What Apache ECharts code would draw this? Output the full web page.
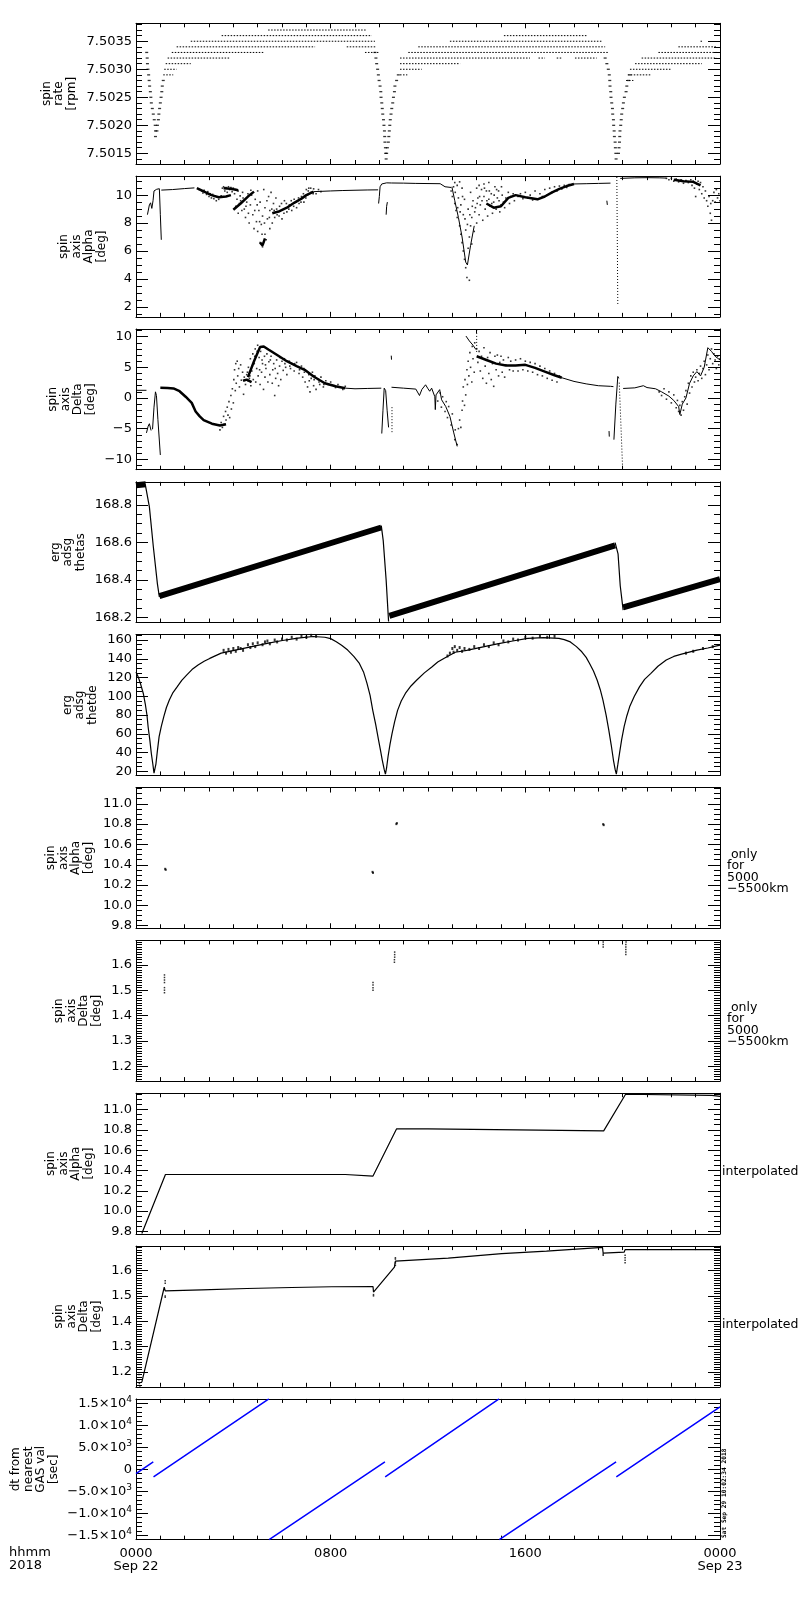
<!DOCTYPE html>
<html><head><meta charset="utf-8">
<script src="https://cdn.jsdelivr.net/npm/echarts@6/dist/echarts.min.js"></script>
<style>html,body{margin:0;padding:0;background:#fff}#c{width:800px;height:1600px}</style>
</head><body><div id="c"></div>
<script>
// ---------------- X axis: hours from 2018-09-22 00:00 UT ----------------
const xTickValues = [0, 8, 16, 24];
const xTickLabels = ['0000\nSep 22', '0800', '1600', '0000\nSep 23'];

// ---------------- Panel 1: spin rate [rpm] ----------------
const spinRateTicks = [7.5015, 7.5020, 7.5025, 7.5030, 7.5035];
const spinRateTickLabels = ['7.5015', '7.5020', '7.5025', '7.5030', '7.5035'];
// quantised rows: [level, tStart, tEnd]
const spinRateRows = [
  [7.5037, 5.43, 9.47],
  [7.5036, 3.52, 9.69], [7.5036, 15.12, 18.52],
  [7.5035, 2.25, 9.82], [7.5035, 12.9, 19.14], [7.5035, 23.2, 23.3],
  [7.5034, 1.67, 7.36], [7.5034, 8.66, 9.89], [7.5034, 11.6, 19.28], [7.5034, 22.29, 23.87],
  [7.5033, 1.47, 5.23], [7.5033, 9.41, 9.96], [7.5033, 11.19, 19.42], [7.5033, 21.47, 23.87],
  [7.5032, 1.3, 3.83], [7.5032, 10.85, 16.19], [7.5032, 16.54, 16.81], [7.5032, 17.29, 17.5], [7.5032, 18.04, 18.93], [7.5032, 20.78, 23.87],
  [7.5031, 1.22, 2.25], [7.5031, 10.85, 13.32], [7.5031, 20.51, 23.25],
  [7.5030, 1.16, 1.67], [7.5030, 10.85, 11.74], [7.5030, 20.3, 22.0],
  [7.5029, 1.12, 1.53], [7.5029, 10.85, 11.15], [7.5029, 20.21, 21.15],
  [7.5028, 20.14, 20.44]
];
const spinRateDips = [
  [0.44,7.5033],[0.46,7.5032],[0.47,7.5031],[0.49,7.5030],[0.52,7.5029],[0.54,7.5028],[0.56,7.5027],[0.59,7.5026],
  [0.61,7.5025],[0.63,7.5024],[0.67,7.5023],[0.71,7.5022],[0.75,7.5021],[0.79,7.5020],[0.8,7.5019],[0.8,7.5018],
  [0.86,7.5019],[0.88,7.5020],[0.92,7.5021],[0.94,7.5022],[0.97,7.5023],[1.0,7.5024],[1.03,7.5025],[1.06,7.5026],
  [1.08,7.5027],[1.12,7.5028],
  [9.82,7.5033],[9.86,7.5032],[9.89,7.5031],[9.93,7.5030],[9.96,7.5029],[9.99,7.5028],[10.03,7.5027],[10.06,7.5026],
  [10.07,7.5025],[10.1,7.5024],[10.12,7.5023],[10.14,7.5022],[10.17,7.5021],[10.19,7.5020],[10.21,7.5019],[10.22,7.5018],
  [10.23,7.5017],[10.25,7.5016],[10.26,7.5015],[10.28,7.5014],
  [10.3,7.5015],[10.33,7.5016],[10.37,7.5017],[10.39,7.5018],[10.41,7.5019],[10.43,7.5020],[10.45,7.5021],[10.48,7.5022],
  [10.51,7.5023],[10.55,7.5024],[10.58,7.5025],[10.62,7.5026],[10.64,7.5027],[10.71,7.5028],[10.78,7.5029],
  [19.28,7.5032],[19.35,7.5031],[19.41,7.5030],[19.45,7.5029],[19.47,7.5028],[19.48,7.5027],[19.51,7.5026],[19.52,7.5025],
  [19.55,7.5024],[19.58,7.5023],[19.59,7.5022],[19.62,7.5021],[19.63,7.5020],[19.65,7.5019],[19.66,7.5018],[19.69,7.5017],
  [19.7,7.5016],[19.72,7.5015],[19.73,7.5014],
  [19.83,7.5015],[19.85,7.5016],[19.87,7.5017],[19.88,7.5018],[19.89,7.5019],[19.92,7.5020],[19.94,7.5021],[19.96,7.5022],
  [20.0,7.5023],[20.03,7.5024],[20.07,7.5025],[20.14,7.5026],[20.17,7.5027],[20.24,7.5028],[20.3,7.5029]
];

// ---------------- Panel 2: spin axis Alpha [deg] ----------------
const alphaTicks = [2, 4, 6, 8, 10];
const alphaTickLabels = ['2', '4', '6', '8', '10'];
const alphaLine = [
  [0.47,8.6],[0.55,9.3],[0.6,9.45],[0.65,9.05],[0.7,9.6],[0.74,10.3],[0.85,10.42],[0.96,10.46],[1.0,8.6],[1.04,6.8], null,
  [1.04,10.36],[1.5,10.4],[2.0,10.47],[2.4,10.52], null,
  [7.3,10.25],[8.0,10.3],[8.5,10.33],[9.0,10.35],[9.5,10.37],[9.95,10.38], null,
  [9.97,9.4],[10.0,9.9],[10.03,10.6],[10.1,10.8],[10.3,10.88],[10.5,10.87],[11.0,10.86],[11.5,10.84],[12.0,10.83],[12.5,10.82],[12.7,10.6],[12.95,10.55], null,
  [10.28,8.6],[10.3,9.2],[10.33,9.5], null,
  [12.98,10.6],[13.1,9.6],[13.25,8.4],[13.4,7.0],[13.55,5.2],[13.62,5.0],[13.75,6.4],[13.9,7.8], null,
  [18.0,10.8],[18.5,10.82],[19.0,10.84],[19.5,10.86], null,
  [19.35,9.6],[19.37,9.3], null,
  [19.9,11.2],[20.5,11.24],[21.0,11.25],[21.5,11.24],[21.8,11.22]
];
const alphaBand = [
  [2.5,10.5],[2.8,10.25],[3.1,10.0],[3.4,9.85],[3.7,9.9],[3.9,10.0], null,
  [3.6,10.5],[3.9,10.45],[4.2,10.35], null,
  [4.0,8.95],[4.3,9.4],[4.6,9.9],[4.85,10.25], null,
  [5.1,6.6],[5.2,6.4],[5.3,6.9], null,
  [5.6,8.7],[5.9,8.85],[6.2,9.1],[6.5,9.45],[6.8,9.75],[7.0,10.0],[7.3,10.25], null,
  [14.4,9.4],[14.7,9.1],[15.0,9.2],[15.3,9.8],[15.6,10.0],[16.0,9.85],[16.5,9.7],[16.8,9.9],[17.1,10.2],[17.4,10.45],[17.7,10.65],[18.0,10.8], null,
  [22.1,11.1],[22.5,11.0],[22.9,10.95],[23.2,10.7]
];
const alphaSpike = [[19.76,11.3],[19.8,2.1]];
const alphaCloud = [
  [2.6,10.4],[2.7,10.3],[2.75,10.15],[2.8,10.35],[2.9,10.05],[2.95,10.25],[3.0,9.9],[3.05,10.1],[3.1,9.8],[3.15,10.05],
  [3.2,9.75],[3.25,9.95],[3.3,9.6],[3.35,9.85],[3.4,9.7],[3.5,9.95],[3.55,10.5],[3.6,10.6],[3.65,10.3],[3.7,10.55],
  [3.75,10.2],[3.8,10.6],[3.85,10.4],[3.9,10.55],[3.95,10.25],[4.0,10.5],[4.05,10.1],[4.1,10.4],[4.15,9.7],[4.2,10.3],[4.25,9.4],
  [4.1,9.2],[4.2,8.7],[4.3,9.6],[4.35,8.9],[4.4,9.8],[4.45,9.0],[4.5,8.4],[4.55,9.5],[4.6,10.1],[4.65,8.0],[4.7,9.3],
  [4.75,10.0],[4.8,8.6],[4.85,7.6],[4.9,9.7],[4.95,8.1],[5.0,10.3],[5.0,7.4],[5.05,8.9],[5.1,6.6],[5.1,9.5],[5.15,7.9],
  [5.2,6.3],[5.2,8.5],[5.25,10.4],[5.3,7.2],[5.3,9.1],[5.35,6.8],[5.4,8.3],[5.45,9.9],[5.5,7.6],[5.5,8.9],[5.55,10.2],
  [5.6,8.0],[5.65,9.4],[5.7,8.4],[5.75,9.8],[5.8,8.6],[5.9,9.2],[6.0,8.3],[6.1,9.6],[6.2,8.8],[6.3,9.3],[6.4,8.9],
  [6.5,9.7],[6.6,9.1],[6.7,9.4],[6.8,9.9],[6.9,9.5],[7.0,10.4],[7.05,10.0],[7.1,10.5],[7.2,10.2],[7.3,10.45],[7.4,10.1],[7.5,10.4],[7.6,10.25],
  [4.28,9.95],[4.38,10.2],[4.52,9.2],[4.62,8.7],[4.72,10.35],[4.88,8.9],[4.98,9.3],[5.08,8.1],[5.18,7.2],[5.28,8.0],
  [5.38,9.6],[5.48,8.4],[5.58,9.0],[5.68,8.9],[5.78,9.0],[5.88,8.5],[5.98,9.4],[6.08,8.7],[6.18,9.4],[6.28,9.0],
  [6.38,9.6],[6.48,9.2],[6.58,9.5],[6.68,9.8],[6.78,9.5],[6.88,10.1],[6.98,9.8],[7.08,10.3],[7.18,10.5],[7.28,10.1],
  [12.95,10.3],[13.0,9.9],[13.05,10.6],[13.1,9.4],[13.1,10.9],[13.15,8.9],[13.2,10.7],[13.2,8.4],[13.25,9.8],[13.3,7.8],
  [13.3,10.95],[13.35,7.2],[13.35,9.3],[13.4,6.6],[13.4,10.5],[13.45,6.0],[13.45,8.6],[13.5,5.4],[13.5,9.7],[13.55,4.8],
  [13.55,7.5],[13.6,4.1],[13.65,6.2],[13.65,9.0],[13.7,7.0],[13.7,3.9],[13.75,7.8],[13.75,10.2],[13.8,6.5],[13.8,8.4],
  [13.85,9.6],[13.9,7.4],[13.95,9.1],[14.0,10.5],[14.0,8.0],[14.05,9.8],[14.1,10.7],[14.1,8.6],[14.15,9.3],[14.2,10.4],
  [14.25,8.2],[14.3,9.9],[14.3,10.8],[14.35,9.0],[14.4,10.3],[14.45,8.5],[14.5,9.7],[14.5,10.9],[14.55,9.2],[14.6,10.1],
  [14.65,8.7],[14.7,9.5],[14.75,10.6],[14.8,9.0],[14.85,9.8],[14.9,10.3],[14.95,8.8],[15.0,9.3],[15.05,10.0],[15.1,9.5],
  [15.15,9.1],[15.2,9.8],[15.3,10.2],[15.35,9.4],[15.4,9.9],[15.5,10.1],[15.55,9.6],
  [13.12,10.2],[13.22,9.1],[13.32,8.8],[13.42,9.9],[13.52,8.3],[13.62,7.9],[13.72,8.6],[13.82,9.2],[13.92,8.8],[14.02,9.4],
  [14.12,9.9],[14.22,9.6],[14.32,10.5],[14.42,9.6],[14.52,10.3],[14.62,9.4],[14.72,10.0],[14.82,10.4],[14.92,9.6],[15.02,10.6],
  [15.7,9.9],[15.8,10.1],[15.9,9.75],[16.0,10.2],[16.1,9.8],[16.2,10.0],[16.3,9.65],[16.4,10.3],[16.5,9.7],[16.6,10.1],
  [16.7,9.9],[16.8,10.4],[16.9,10.0],[17.0,10.5],[17.1,10.2],[17.2,10.6],[17.3,10.3],[17.4,10.65],[17.5,10.45],[17.6,10.7],[17.7,10.55],[17.8,10.75],
  [21.8,11.2],[21.9,11.1],[22.0,11.2],[22.1,11.0],[22.2,11.15],[22.3,10.95],[22.4,11.1],[22.5,10.85],[22.6,11.05],[22.7,10.9],
  [22.8,11.1],[22.85,10.7],[22.9,11.0],[22.95,10.5],[23.0,9.9],[23.05,10.8],[23.1,11.0],[23.15,10.4],[23.2,10.9],[23.25,10.1],
  [23.3,10.6],[23.35,9.8],[23.4,10.3],[23.45,9.6],[23.5,9.2],[23.55,9.9],[23.6,8.7],[23.62,9.4],[23.65,8.2],[23.7,9.6],
  [23.75,10.2],[23.8,9.5],[23.85,10.4],[23.9,9.8],[23.95,10.1],[24.0,9.6]
];

// ---------------- Panel 3: spin axis Delta [deg] ----------------
const deltaTicks = [-10, -5, 0, 5, 10];
const deltaTickLabels = ['\u221210', '\u22125', '0', '5', '10'];
const deltaLine = [
  [0,1.25],[0.43,1.25], null,
  [0.43,-5.7],[0.5,-4.6],[0.55,-4.2],[0.62,-5.3], null,
  [0.68,-5.1],[0.74,-1.5],[0.8,1.0],[0.84,0.4],[0.9,-3.5],[1.0,-9.3], null,
  [8.6,1.6],[9.0,1.5],[9.5,1.55],[10.08,1.6], null,
  [10.1,-5.8],[10.15,-2.0],[10.2,1.6],[10.26,1.2],[10.32,-2.0],[10.38,-4.8], null,
  [10.49,6.9],[10.5,6.25], null,
  [10.5,1.75],[11.0,1.6],[11.5,1.45],[11.57,1.2],[11.65,0.4],[11.75,1.4],[11.9,2.15],[12.0,1.5],[12.07,1.1],[12.15,1.6],
  [12.23,1.9],[12.28,0.2],[12.3,-1.9],[12.33,0.5],[12.48,1.36],[12.56,-0.3],[12.73,-1.4],[12.9,-3.0],[13.06,-5.7],[13.2,-7.9], null,
  [13.56,10.1],[13.7,9.3],[13.85,8.6],[13.97,7.9], null,
  [17.5,3.3],[18.0,2.7],[18.5,2.3],[19.0,2.0],[19.5,1.9],[19.62,1.85], null,
  [19.44,-5.4],[19.45,-6.3], null,
  [19.64,-6.8],[19.72,-1.0],[19.8,3.5],[19.84,3.2], null,
  [20.02,1.55],[20.5,1.65],[20.85,2.0],[21.0,1.7],[21.35,1.5],[21.6,1.0],[21.9,0.3],[22.1,-0.4],[22.3,-1.4],[22.35,-2.7],
  [22.45,-1.0],[22.6,0.0],[22.75,2.4],[22.9,3.6],[23.05,4.3],[23.2,3.6],[23.35,5.0],[23.5,8.2],[23.65,7.6],[23.8,6.8],[24,6.2]
];
const deltaBand = [
  [1.0,1.65],[1.3,1.62],[1.54,1.55],[1.79,1.1],[2.04,0.2],[2.29,-0.8],[2.45,-2.2],[2.62,-3.0],[2.78,-3.6],[3.12,-4.2],[3.45,-4.5],[3.7,-4.3], null,
  [4.6,3.4],[4.85,6.0],[5.1,8.3],[5.25,8.4],[5.44,7.9],[5.8,7.0],[6.2,6.0],[6.6,5.2],[6.93,4.6],[7.3,3.5],[7.76,2.4],[8.2,1.9],[8.6,1.6], null,
  [4.4,2.8],[4.55,3.0],[4.75,2.6], null,
  [14.0,6.8],[14.4,6.2],[14.8,5.6],[15.2,5.3],[15.6,5.3],[16.0,5.4],[16.4,4.9],[16.8,4.3],[17.2,3.7],[17.5,3.3]
];
const deltaDotted = [[14.0,11.1],[14.0,7.3], null, [10.52,-1.5],[10.52,-5.8], null, [19.86,2.5],[20.0,-11.7]];
const deltaCloud = [
  [3.45,-5.2],[3.5,-4.0],[3.55,-4.8],[3.6,-3.0],[3.62,-4.3],[3.68,-2.2],[3.7,-3.6],[3.75,-1.5],[3.78,-2.8],[3.82,-0.6],
  [3.85,-3.2],[3.9,0.4],[3.92,-1.8],[3.96,1.5],[4.0,-0.8],[4.02,3.0],[4.05,4.6],[4.08,1.2],[4.1,5.6],[4.12,2.4],
  [4.16,6.0],[4.18,3.6],[4.22,4.8],[4.25,1.8],[4.3,5.4],[4.33,2.9],[4.38,4.2],[4.42,0.6],[4.45,3.4],
  [4.5,2.2],[4.55,3.8],[4.6,2.8],[4.62,5.0],[4.66,3.2],[4.7,6.4],[4.72,2.0],[4.76,4.4],[4.8,7.2],[4.82,3.0],[4.86,5.6],
  [4.9,8.0],[4.92,2.6],[4.96,4.8],[5.0,8.6],[5.02,3.6],[5.06,6.6],[5.1,2.2],[5.12,7.6],[5.16,4.2],[5.2,5.6],[5.24,1.4],
  [5.28,6.8],[5.3,3.4],[5.34,4.8],[5.38,7.2],[5.42,2.6],[5.46,5.9],[5.5,3.8],[5.55,6.8],[5.6,2.4],[5.62,4.6],[5.66,5.6],
  [5.7,0.4],[5.74,3.2],[5.78,6.2],[5.82,4.0],[5.86,2.0],[5.9,5.2],[5.95,3.0],[6.0,6.0],
  [6.05,4.5],[6.1,6.4],[6.15,5.0],[6.2,3.8],[6.3,6.0],[6.35,4.8],[6.4,5.6],[6.5,4.4],[6.6,5.8],[6.7,4.0],[6.8,5.2],
  [6.85,3.4],[6.9,4.8],[6.95,2.6],[7.0,4.4],[7.05,1.8],[7.1,3.8],[7.15,1.0],[7.2,3.2],[7.25,4.2],[7.3,2.0],[7.35,3.6],
  [7.4,1.4],[7.5,3.0],[7.55,2.2],[7.6,3.4],[7.7,1.8],[7.8,2.8],[7.9,2.2],[8.0,2.6],[8.2,1.7],[8.3,2.2],[8.5,1.4],[8.6,1.9],
  [4.58,4.2],[4.68,3.6],[4.78,5.2],[4.88,6.8],[4.98,7.6],[5.08,4.6],[5.18,6.2],[5.32,5.4],[5.52,6.2],[5.72,4.8],
  [5.92,6.6],[6.12,5.6],[6.32,5.2],[6.52,5.6],[6.72,4.6],[6.92,4.2],[7.12,2.8],[7.32,3.0],[7.52,2.6],[7.72,2.2],
  [12.4,-0.5],[12.5,0.8],[12.55,-1.5],[12.6,0.2],[12.7,-2.2],[12.75,-0.6],[12.8,-3.2],[12.85,-1.4],[12.95,-4.4],[13.0,-2.6],
  [13.1,-6.8],[13.12,-5.2],[13.2,-7.6],[13.25,-5.0],[13.3,-3.6],[13.35,-4.8],[13.4,-2.0],[13.42,-0.5],[13.45,1.8],[13.5,-1.2],
  [13.52,3.0],[13.55,0.5],[13.6,4.6],[13.62,2.2],[13.65,6.0],[13.68,3.6],[13.72,7.4],[13.75,5.0],[13.8,2.6],[13.82,8.4],
  [13.85,6.4],[13.9,4.2],[13.92,9.0],
  [14.0,8.0],[14.05,5.8],[14.1,7.6],[14.15,4.4],[14.2,6.8],[14.25,3.2],[14.3,8.2],[14.35,5.2],[14.4,2.4],[14.45,6.6],
  [14.5,4.0],[14.55,7.4],[14.6,3.0],[14.65,5.6],[14.7,1.9],[14.75,6.8],[14.8,4.6],[14.85,7.0],[14.9,3.6],[14.95,5.8],
  [15.0,6.8],[15.05,4.2],[15.1,6.2],[15.15,3.4],[15.2,5.4],[15.3,6.6],[15.35,4.6],[15.4,6.0],[15.5,4.4],
  [15.6,6.2],[15.7,4.4],[15.8,6.4],[15.9,4.6],[16.0,6.0],[16.1,4.4],[16.2,5.8],[16.3,4.2],[16.4,5.6],[16.5,3.8],
  [16.6,5.2],[16.7,3.6],[16.8,4.8],[16.9,3.2],[17.0,4.4],[17.1,2.9],[17.2,4.0],[17.3,2.6],[17.4,3.6],
  [21.5,1.0],[21.6,0.4],[21.7,1.5],[21.8,-0.2],[21.9,1.0],[22.0,-0.8],[22.1,0.5],[22.2,-1.6],[22.25,-0.4],[22.3,-2.2],
  [22.35,-1.2],[22.4,-2.8],[22.45,-0.6],[22.5,-2.0],[22.55,0.2],[22.6,1.2],[22.65,-1.0],[22.7,2.4],[22.75,0.8],[22.8,3.6],
  [22.85,1.8],[22.9,4.2],[22.95,2.6],[23.0,3.4],[23.05,4.6],[23.1,2.8],[23.15,4.0],[23.2,5.2],[23.25,3.2],[23.3,4.8],
  [23.35,6.0],[23.4,3.8],[23.45,5.4],[23.5,7.0],[23.55,4.6],[23.6,6.4],[23.65,8.0],[23.7,5.6],[23.75,7.2],[23.8,6.2],
  [23.85,4.8],[23.9,6.8],[23.95,5.4],[24.0,6.4]
];

// ---------------- Panel 4: erg adsg thetas ----------------
const thetasTicks = [168.2, 168.4, 168.6, 168.8];
const thetasTickLabels = ['168.2', '168.4', '168.6', '168.8'];
const thetasBand = [[0,168.905],[0.4,168.91], null, [0.96,168.315],[10.08,168.68], null, [10.41,168.21],[19.69,168.585], null, [20.02,168.255],[24,168.405]];
const thetasDrop = [[0.38,168.91],[0.55,168.79],[0.71,168.58],[0.88,168.38],[0.96,168.31], null,
  [10.08,168.69],[10.16,168.61],[10.28,168.4],[10.38,168.18], null,
  [19.69,168.6],[19.81,168.54],[19.9,168.37],[20.02,168.24]];

// ---------------- Panel 5: erg adsg thetde ----------------
const thetdeTicks = [20, 40, 60, 80, 100, 120, 140, 160];
const thetdeTickLabels = ['20', '40', '60', '80', '100', '120', '140', '160'];
const thetdeLine = [
  [0,126],[0.1,120],[0.19,113],[0.3,103],[0.38,92],[0.45,80],[0.5,67],[0.57,53],[0.63,39],[0.69,28],[0.74,18],[0.78,17],
  [0.82,28],[0.88,42],[0.95,57],[1.04,68],[1.14,78],[1.25,88],[1.37,96],[1.52,104],[1.69,110],[1.88,117],[2.08,122.6],
  [2.3,128.5],[2.55,133.3],[2.8,137.3],[3.03,140.4],[3.5,146],[4.13,149.5],[4.76,153],[5.39,156.5],[6.02,159.5],[6.65,162],
  [7.28,163.8],[7.76,163],[8.0,161.5],[8.23,158.2],[8.45,154.5],[8.7,149.3],[8.95,142.5],[9.18,135],[9.35,126],[9.49,114],
  [9.62,101],[9.73,85],[9.85,70],[9.97,53],[10.05,42],[10.12,32],[10.2,22],[10.25,17],[10.3,24],[10.36,36],[10.44,49],
  [10.52,60],[10.63,73],[10.75,85],[10.9,95],[11.07,103],[11.3,111],[11.54,117.4],[11.85,125],[12.17,131.6],[12.4,136.5],
  [12.65,140.4],[13.12,147],[13.59,149],[14.22,152.5],[14.85,156],[15.48,159],[16.1,161.8],[16.75,162.5],[17.38,161.8],
  [17.6,160.5],[17.85,158],[18.1,153],[18.32,147.5],[18.5,141.5],[18.64,135],[18.8,127],[18.95,117.4],[19.08,107],[19.19,96],
  [19.32,80],[19.43,64],[19.53,48],[19.62,32],[19.69,22],[19.74,17],[19.8,27],[19.87,39],[19.96,54],[20.06,67.6],[20.17,79],
  [20.29,89],[20.48,100],[20.69,110],[20.9,118],[21.16,124.5],[21.45,132],[21.79,138.7],[22.1,142.5],[22.42,145],
  [23.05,149.3],[23.5,151.5],[24,154.6]
];
const thetdeNoise = [
  [3.6,149],[3.7,146],[3.8,150],[3.9,147],[4.0,151],[4.1,148],[4.2,152],[4.3,151],[4.4,149],[4.6,155],[4.7,152],[4.8,156],
  [4.9,153],[5.0,157],[5.2,155],[5.3,158],[5.4,159],[5.5,156],[5.7,160],[5.8,158],[6.0,161],[6.2,160],[6.4,163],[6.6,161],
  [6.8,164],[7.0,163],[7.2,165],[7.4,164],
  [12.8,143],[12.9,146],[13.0,151],[13.05,147],[13.1,153],[13.2,149],[13.3,152],[13.4,148],[13.5,151],[13.7,150],[13.9,153],
  [14.1,151],[14.3,155],[14.5,153],[14.7,157],[14.9,155],[15.1,159],[15.3,158],[15.5,161],[15.7,160],[16.0,163],[16.3,162],
  [16.6,164],[16.9,163],[17.2,164],[22.6,146],[22.9,148],[23.3,151],[23.7,153]
];

// ---------------- Panels 6 & 8: spin axis Alpha (only / interpolated) ----------------
const alphaFineTicks = [9.8, 10.0, 10.2, 10.4, 10.6, 10.8, 11.0];
const alphaFineTickLabels = ['9.8', '10.0', '10.2', '10.4', '10.6', '10.8', '11.0'];
const alphaOnly = [[1.2,10.36],[1.22,10.35],[9.72,10.33],[9.74,10.32],[10.7,10.8],[10.72,10.81],[19.2,10.8],[19.22,10.79],[20.12,11.15]];
const alphaInterp = [
  [0.24,9.78],[1.21,10.36],[8.6,10.36],[8.62,10.35],[9.74,10.345],[9.8,10.33],[10.71,10.81],[12.0,10.81],[12.02,10.8],
  [15.67,10.8],[15.7,10.79],[19.22,10.79],[20.12,11.15],[23.67,11.14],[24.0,11.13]
];

// ---------------- Panels 7 & 9: spin axis Delta (only / interpolated) ----------------
const deltaFineTicks = [1.2, 1.3, 1.4, 1.5, 1.6];
const deltaFineTickLabels = ['1.2', '1.3', '1.4', '1.5', '1.6'];
const deltaOnly = [
  [1.17,1.49],[1.17,1.5],[1.17,1.51],[1.17,1.53],[1.17,1.54],[1.17,1.55],[1.17,1.56],
  [9.74,1.5],[9.74,1.51],[9.74,1.52],[9.74,1.53],
  [10.62,1.61],[10.62,1.62],[10.63,1.63],[10.63,1.64],[10.63,1.65],
  [19.2,1.67],[19.2,1.68],[19.2,1.69],
  [20.13,1.64],[20.13,1.65],[20.13,1.66],[20.13,1.67],[20.13,1.68],[20.14,1.69]
];
const deltaInterp = [
  [0.24,1.16],[1.16,1.534],[1.2,1.52],[2.7,1.524],[4.56,1.529],[6.4,1.533],[8.05,1.536],[9.74,1.537],[9.76,1.515],
  [10.62,1.613],[10.66,1.637],[12.83,1.649],[15.03,1.666],[16.87,1.676],[19.17,1.691],[19.2,1.668],[20.06,1.672],
  [20.1,1.682],[24,1.682]
];
const deltaInterpDots = [
  [0.12,1.19],[0.12,1.17],[0.14,1.155],[0.16,1.145],[1.2,1.56],[1.2,1.55],[1.2,1.5],[1.2,1.495],
  [9.76,1.505],[9.76,1.5],[10.66,1.62],[10.66,1.63],[10.66,1.645],[10.66,1.65],
  [19.2,1.665],[19.2,1.66],[20.1,1.66],[20.1,1.65],[20.1,1.64],[20.1,1.63]
];

// ---------------- Panel 10: dt from nearest GAS val [sec] ----------------
const dtTicks = [-15000, -10000, -5000, 0, 5000, 10000, 15000];
const dtTickLabels = ['\u22121.5\u00d710|4', '\u22121.0\u00d710|4', '\u22125.0\u00d710|3', '0', '5.0\u00d710|3', '1.0\u00d710|4', '1.5\u00d710|4'];
const dtLine = [
  [0,-1000],[0.71,1700], null,
  [0.72,-1700],[5.46,16000], null,
  [5.47,-16000],[10.23,1700], null,
  [10.24,-1700],[14.92,16000], null,
  [14.93,-16000],[19.73,1700], null,
  [19.74,-1700],[24,14200]
];

// =====================================================================
const FONT = 'DejaVu Sans';
const L = 136, W = 584, T0 = 23.3, PITCH = 152.85, H = 140.7;
const BLACK = '#000';

const panels = [
  {min:7.50131, max:7.50382, ticks:spinRateTicks, labels:spinRateTickLabels, minor:0.0001, title:'spin\nrate\n[rpm]', tr:78},
  {min:1.28, max:11.36, ticks:alphaTicks, labels:alphaTickLabels, minor:0.5, title:'spin\naxis\nAlpha\n[deg]', tr:108},
  {min:-11.7, max:11.25, ticks:deltaTicks, labels:deltaTickLabels, minor:1, title:'spin\naxis\nDelta\n[deg]', tr:97},
  {min:168.174, max:168.923, ticks:thetasTicks, labels:thetasTickLabels, minor:0.05, title:'erg\nadsg\nthetas', tr:87},
  {min:15.6, max:165.7, ticks:thetdeTicks, labels:thetdeTickLabels, minor:5, title:'erg\nadsg\nthetde', tr:99},
  {min:9.775, max:11.16, ticks:alphaFineTicks, labels:alphaFineTickLabels, minor:0.05, title:'spin\naxis\nAlpha\n[deg]', tr:95, right:' only\nfor\n5000\n\u22125500km'},
  {min:1.142, max:1.696, ticks:deltaFineTicks, labels:deltaFineTickLabels, minor:0.01, title:'spin\naxis\nDelta\n[deg]', tr:103, right:' only\nfor\n5000\n\u22125500km'},
  {min:9.775, max:11.16, ticks:alphaFineTicks, labels:alphaFineTickLabels, minor:0.05, title:'spin\naxis\nAlpha\n[deg]', tr:95, interp:true},
  {min:1.142, max:1.696, ticks:deltaFineTicks, labels:deltaFineTickLabels, minor:0.01, title:'spin\naxis\nDelta\n[deg]', tr:103, interp:true},
  {min:-16000, max:16000, ticks:dtTicks, labels:dtTickLabels, minor:1000, title:'dt from\nnearest\nGAS val\n[sec]', tr:60, rich:true}
];

function minorTicks(p) {
  const out = [];
  const k0 = Math.ceil(p.min / p.minor - 1e-6), k1 = Math.floor(p.max / p.minor + 1e-6);
  for (let k = k0; k <= k1; k++) {
    const v = +(k * p.minor).toFixed(8);
    if (!p.ticks.some(m => Math.abs(m - v) < p.minor * 1e-3)) out.push(v);
  }
  return out;
}
function labelFor(p, v) {
  for (let i = 0; i < p.ticks.length; i++) if (Math.abs(p.ticks[i] - v) < 1e-9 + Math.abs(p.ticks[i]) * 1e-9) {
    const s = p.labels[i];
    if (p.rich && s.indexOf('|') >= 0) { const a = s.split('|'); return '{m|' + a[0] + '}{s|' + a[1] + '}'; }
    return p.rich ? '{m|' + s + '}' : s;
  }
  return '';
}

const grids = [], xAxes = [], yAxes = [], series = [], graphics = [];
const axisLine = {show: true, onZero: false, lineStyle: {color: BLACK, width: 1}};
panels.forEach((p, i) => {
  const top = T0 + PITCH * i;
  grids.push({left: L, top: top, width: W, height: H, containLabel: false, outerBoundsMode: 'none'});
  const last = i === panels.length - 1;
  ['bottom', 'top'].forEach(pos => {
    xAxes.push({
      gridIndex: i, type: 'value', position: pos, min: 0, max: 24, interval: 8,
      axisLine: axisLine,
      axisTick: {show: true, inside: true, length: 5, lineStyle: {color: BLACK}},
      minorTick: {show: true, splitNumber: 8, length: 4, lineStyle: {color: BLACK}},
      splitLine: {show: false}, minorSplitLine: {show: false},
      axisLabel: (last && pos === 'bottom') ? {
        show: true, margin: 7, fontSize: 13, lineHeight: 13, fontFamily: FONT, color: BLACK,
        showMinLabel: true, showMaxLabel: true,
        formatter: v => { const k = xTickValues.indexOf(v); return k >= 0 ? xTickLabels[k] : ''; }
      } : {show: false}
    });
  });
  const mins = minorTicks(p);
  ['left', 'right'].forEach(pos => {
    yAxes.push({
      gridIndex: i, type: 'value', position: pos, min: p.min, max: p.max, scale: true,
      axisLine: axisLine,
      axisTick: {show: true, inside: true, length: 12, customValues: p.ticks, lineStyle: {color: BLACK}},
      minorTick: {show: false}, splitLine: {show: false},
      axisLabel: pos === 'left' ? {
        show: true, customValues: p.ticks, margin: 4, fontSize: 13, fontFamily: FONT, color: BLACK,
        formatter: v => labelFor(p, v),
        rich: p.rich ? {m: {fontSize: 13, fontFamily: FONT, color: BLACK}, s: {fontSize: 9, fontFamily: FONT, color: BLACK, padding: [0, 0, 8, 0]}} : undefined
      } : {show: false}
    });
    yAxes.push({
      gridIndex: i, type: 'value', position: pos, min: p.min, max: p.max, scale: true,
      axisLine: {show: false, onZero: false},
      axisTick: {show: true, inside: true, length: 6, customValues: mins, lineStyle: {color: BLACK}},
      minorTick: {show: false}, splitLine: {show: false}, axisLabel: {show: false}
    });
  });
  graphics.push({
    type: 'text', x: p.tr, y: top + H / 2, rotation: Math.PI / 2, silent: true,
    style: {text: p.title, fontSize: 12, fontFamily: FONT, fill: BLACK, lineHeight: 12.5,
      align: 'center', verticalAlign: 'bottom', textAlign: 'center', textVerticalAlign: 'bottom'}
  });
  if (p.right) graphics.push({
    type: 'text', x: 727, y: top + H / 2 - 9, silent: true,
    style: {text: p.right, fontSize: 12.5, fontFamily: FONT, fill: BLACK, lineHeight: 11.5,
      align: 'left', verticalAlign: 'top', textAlign: 'left', textVerticalAlign: 'top'}
  });
  if (p.interp) graphics.push({
    type: 'text', x: 722, y: top + H / 2 + 8, silent: true,
    style: {text: 'interpolated', fontSize: 12.5, fontFamily: FONT, fill: BLACK,
      align: 'left', verticalAlign: 'middle', textAlign: 'left', textVerticalAlign: 'middle'}
  });
});

function ax(i) { return {xAxisIndex: 2 * i, yAxisIndex: 4 * i}; }
function lineS(i, data, width, color, type) {
  return Object.assign({type: 'line', data: data, showSymbol: false, symbol: 'none', connectNulls: false, clip: true,
    silent: true, animation: false, lineStyle: {color: color || BLACK, width: width || 1, type: type || 'solid'}}, ax(i));
}
function dotS(i, data, size) {
  return Object.assign({type: 'scatter', data: data, symbol: 'rect', symbolSize: size || [2, 2], clip: true,
    silent: true, animation: false, itemStyle: {color: BLACK}}, ax(i));
}
function rowsToLine(rows) {
  const out = [];
  rows.forEach(r => { out.push([r[1], r[0]], [r[2], r[0]], null); });
  return out;
}

// panel 1
series.push(lineS(0, rowsToLine(spinRateRows), 1, BLACK, [1.5, 1.5]));
series.push(dotS(0, spinRateDips, [3, 1.3]));
// panel 2
series.push(lineS(1, alphaLine, 1));
series.push(lineS(1, alphaBand, 2.5));
series.push(lineS(1, alphaSpike, 1, BLACK, [1, 2]));
series.push(dotS(1, alphaCloud, [1.6, 1.6]));
// panel 3
series.push(lineS(2, deltaLine, 1));
series.push(lineS(2, deltaBand, 2.5));
series.push(lineS(2, deltaDotted, 1, BLACK, [1, 2]));
series.push(dotS(2, deltaCloud, [1.6, 1.6]));
// panel 4
series.push(lineS(3, thetasBand, 6));
series.push(lineS(3, thetasDrop, 1.2));
// panel 5
series.push(lineS(4, thetdeLine, 1.2));
series.push(dotS(4, thetdeNoise, [2, 3]));
// panel 6, 7
series.push(dotS(5, alphaOnly, [2, 2]));
series.push(dotS(6, deltaOnly, [1.5, 1.5]));
// panel 8, 9
series.push(lineS(7, alphaInterp, 1.2));
series.push(lineS(8, deltaInterp, 1.2));
series.push(dotS(8, deltaInterpDots, [1.5, 1.5]));
// panel 10
series.push(lineS(9, dtLine, 1.5, '#0000ff'));

// footer texts
graphics.push({type: 'text', x: 9, y: 1546.5, silent: true,
  style: {text: 'hhmm\n2018', fontSize: 13, fontFamily: FONT, fill: BLACK, lineHeight: 13,
    align: 'left', verticalAlign: 'top', textAlign: 'left', textVerticalAlign: 'top'}});
graphics.push({type: 'text', x: 727.5, y: T0 + PITCH * 9 + H / 2 + 24, rotation: Math.PI / 2, silent: true,
  style: {text: 'Sat Sep 29 10:02:34 2018', fontSize: 6.2, fontWeight: 'bold', fontFamily: 'DejaVu Sans Mono', fill: BLACK,
    align: 'center', verticalAlign: 'bottom', textAlign: 'center', textVerticalAlign: 'bottom'}});

const chart = echarts.init(document.getElementById('c'), null, {renderer: 'canvas', width: 800, height: 1600});
chart.setOption({
  animation: false,
  backgroundColor: '#fff',
  textStyle: {fontFamily: FONT},
  grid: grids, xAxis: xAxes, yAxis: yAxes, series: series, graphic: graphics
});
</script>
</body></html>
